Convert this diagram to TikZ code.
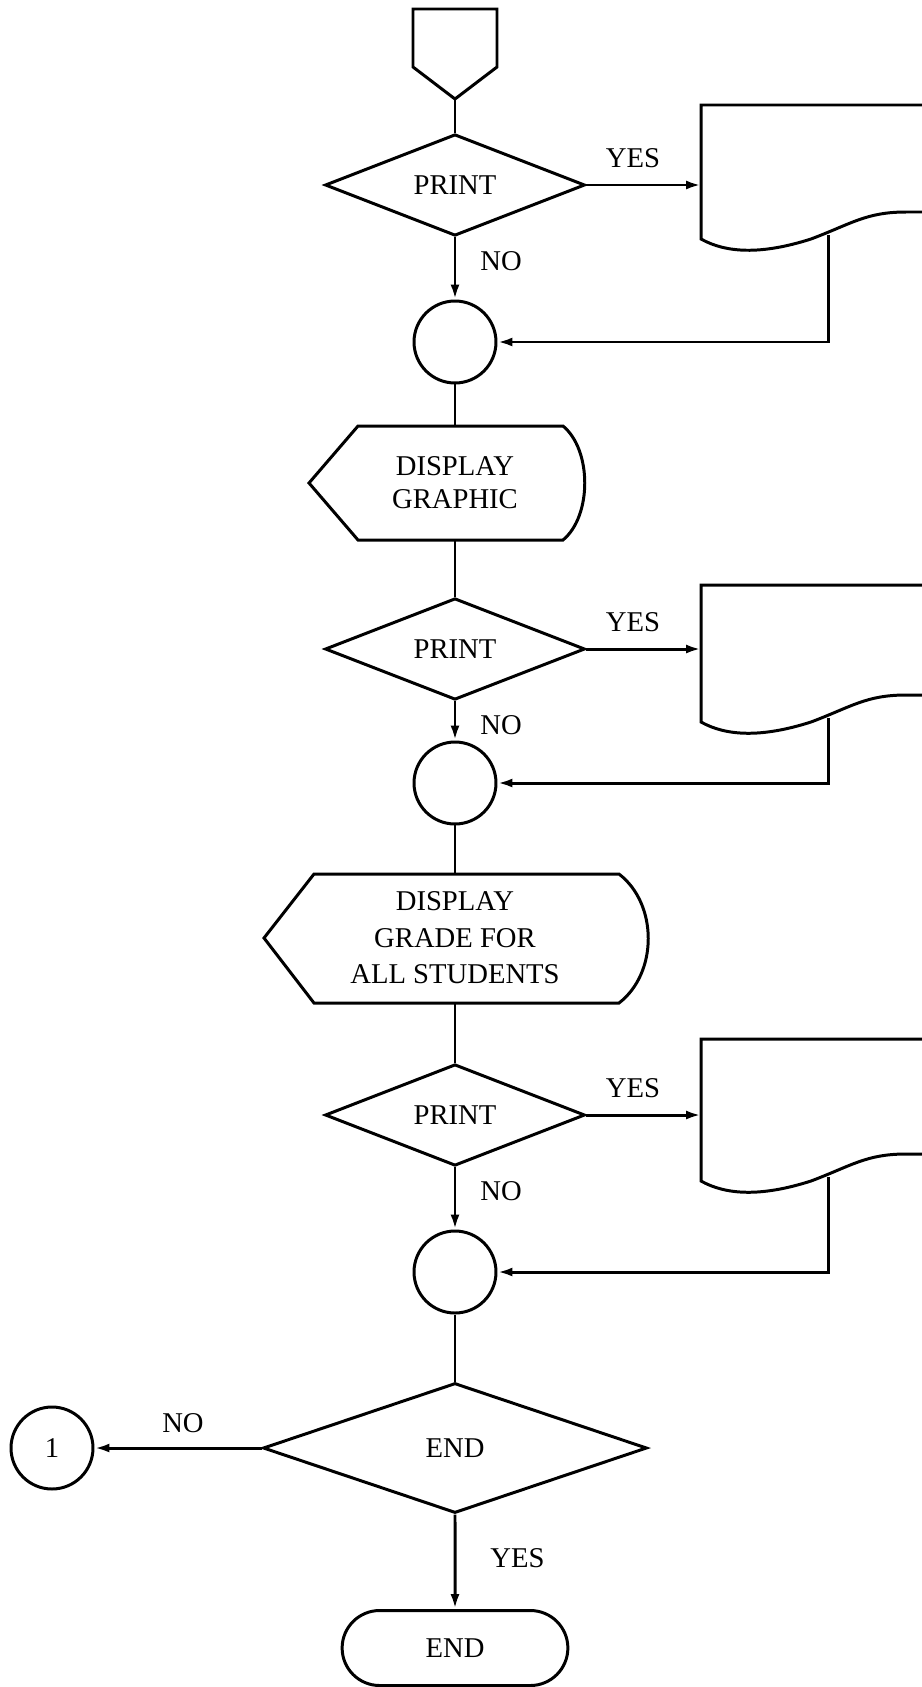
\documentclass[tikz,border=0pt]{standalone}
\usepackage{fontspec}
\setmainfont{Liberation Serif}
\usetikzlibrary{arrows.meta}
\usetikzlibrary{shapes.geometric, shapes.misc}
\usetikzlibrary{math}

\tikzset{
 decision/.style={diamond, draw, minimum width=5.2cm, minimum height=1.86cm, inner sep=0pt},
 joint/.style={circle, draw, minimum size=1.64cm, inner sep=0pt},
 terminal/.style={rounded rectangle, draw, minimum width=4.75cm, minimum height=1.5cm},
 flowarrow/.style={-{Latex[length=3mm,width=1.8mm]}},
}

\begin{document}
\begin{tikzpicture}[x=0.02cm, y=-0.02cm, line width=1.7pt, font=\fontsize{16.3}{19}\selectfont]

\tikzmath{
\xm = 455;% main column
\xd = 701;% left side of the print sheets
\xr = 828;% return lines
\W = 922;
\H = 1687;
}

\useasboundingbox (0,0) rectangle (\W,\H);

%off-page connector
\draw (\xm-42,9) -- (\xm+42,9) -- (\xm+42,67) -- (\xm,99) -- (\xm-42,67) -- cycle;
\coordinate (top) at (\xm,99);

\foreach \i/\dy/\dt/\db/\cy in {1/185/105/239/342, 2/649/585/722/783, 3/1115/1039/1181/1272}{
 \node[decision] (pr\i) at (\xm,\dy) {PRINT};
 \node[joint] (j\i) at (\xm,\cy) {};

 %print sheet
 \draw (925,\dt) -- (\xd,\dt) -- (\xd,\db) .. controls +(25,14) and +(-50,16) .. (\xd+110,\db)
   .. controls +(40,-15) and +(-40,0) .. (\xd+205,\db-27) -- (925,\db-27);
 \coordinate (in\i) at (\xd,\dy);
 \coordinate (out\i) at (\xr,\db-4);

 \draw[flowarrow] (pr\i) -- (in\i);
 \draw[flowarrow] (pr\i) -- (j\i);
 \draw[flowarrow] (out\i) |- (j\i);
 \node (yes\i) at (633,\dy-27) {YES};
 \node[anchor=west] (no\i) at (\xm+18,\dy+76) {NO};
}

%displays
\draw (358,426) -- (563,426) .. controls (592,450) and (592,516) .. (563,540) -- (358,540) -- (309,483) -- cycle;
\node[align=center, font=\fontsize{16.3}{18.7}\selectfont] (disp1) at (\xm,483) {DISPLAY\\GRAPHIC};
\coordinate (d1t) at (\xm,426);
\coordinate (d1b) at (\xm,540);

\draw (314,874) -- (619,874) .. controls (658,904) and (658,973) .. (619,1003) -- (314,1003) -- (264,938) -- cycle;
\node[align=center, font=\fontsize{16.3}{20.8}\selectfont] (disp2) at (\xm,938) {DISPLAY\\GRADE FOR\\ALL STUDENTS};
\coordinate (d2t) at (\xm,874);
\coordinate (d2b) at (\xm,1003);

\draw (top) -- (pr1);
\draw (j1) -- (d1t);
\draw (d1b) -- (pr2);
\draw (j2) -- (d2t);
\draw (d2b) -- (pr3);

%end test
\node[decision, minimum width=7.68cm, minimum height=2.6cm] (endq) at (\xm,1448) {END};
\node[joint] (conn) at (52,1448) {1};
\node[terminal] (stop) at (\xm,1648) {END};
\draw (j3) -- (endq);
\draw[flowarrow] (endq) -- (conn);
\draw[flowarrow] (endq) -- (stop);
\node (no4) at (183,1423) {NO};
\node[anchor=west] (yes4) at (\xm+28,1558) {YES};

\end{tikzpicture}
\end{document}
